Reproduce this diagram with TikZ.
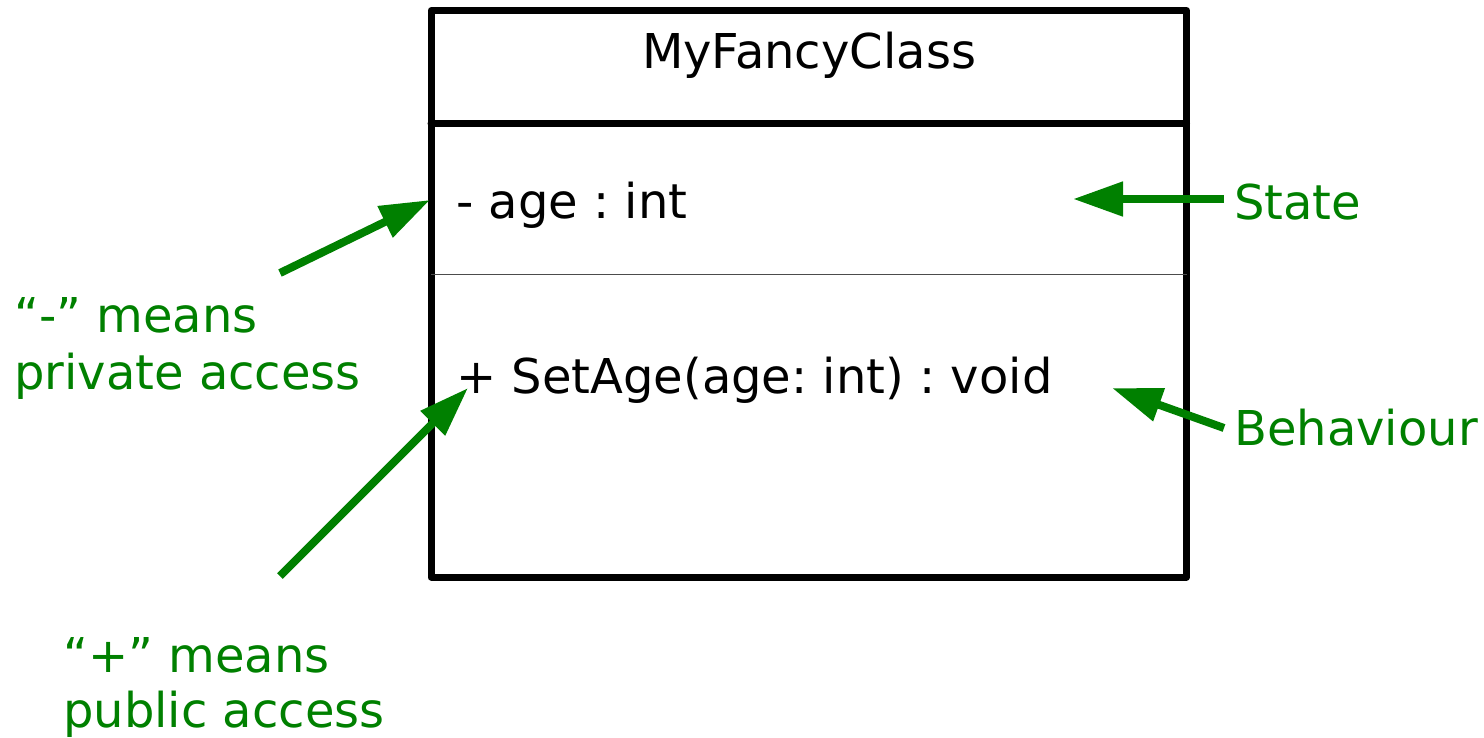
\documentclass[tikz,border=0pt]{standalone}
\usepackage{fontspec}
\setmainfont{DejaVu Sans}
\usetikzlibrary{arrows.meta}
\definecolor{note}{RGB}{0,128,0}
\frenchspacing
\begin{document}
\begin{tikzpicture}[x=1pt,y=-1pt,
  txt/.style={inner sep=0pt,anchor=base west,font=\fontsize{48}{58}\selectfont\frenchspacing},
  notetxt/.style={txt,text=note},
  notearrow/.style={draw=note,line width=8pt,-{Triangle[length=50pt,width=33pt]}},
  boxline/.style={line width=7pt,line join=round,line cap=round}]
\useasboundingbox (0,0) rectangle (1484,737);
% class box
\node[draw,boxline,inner sep=0pt,minimum width=755.5pt,minimum height=566.5pt] (box) at (808.75,293.75) {};
\coordinate (divL) at (431,123.5);
\coordinate (divR) at (1186.5,123.5);
\draw[boxline] (divL) -- (divR);
\coordinate (thinL) at (431,274);
\coordinate (thinR) at (1186.5,274);
\draw[line width=1pt,black!70] (thinL) -- (thinR);
% texts
\node[txt,anchor=base] (name) at (809,68) {MyFancyClass};
\node[txt] (attr) at (456,218) {- age : int};
\node[txt] (meth) at (456,393) {+ SetAge(age: int) : void};
\node[notetxt] (state) at (1234,219) {State};
\node[notetxt] (behav) at (1234,445) {Behaviour};
\node[notetxt] (priv1) at (14,332) {“-” means};
\node[notetxt] (priv2) at (14,389) {private access};
\node[notetxt] (pub1) at (63,672) {“+” means};
\node[notetxt] (pub2) at (63,727) {public access};
% arrows
\coordinate (privS) at (280,273);
\coordinate (privT) at (430,200);
\coordinate (pubS) at (280,576);
\coordinate (pubT) at (468,388);
\coordinate (stateS) at (1224,199);
\coordinate (stateT) at (1073,199);
\coordinate (behS) at (1224,428);
\coordinate (behT) at (1112,388);
\draw[notearrow] (privS) -- (privT);
\draw[notearrow] (pubS) -- (pubT);
\draw[notearrow] (stateS) -- (stateT);
\draw[notearrow] (behS) -- (behT);
\end{tikzpicture}
\end{document}
